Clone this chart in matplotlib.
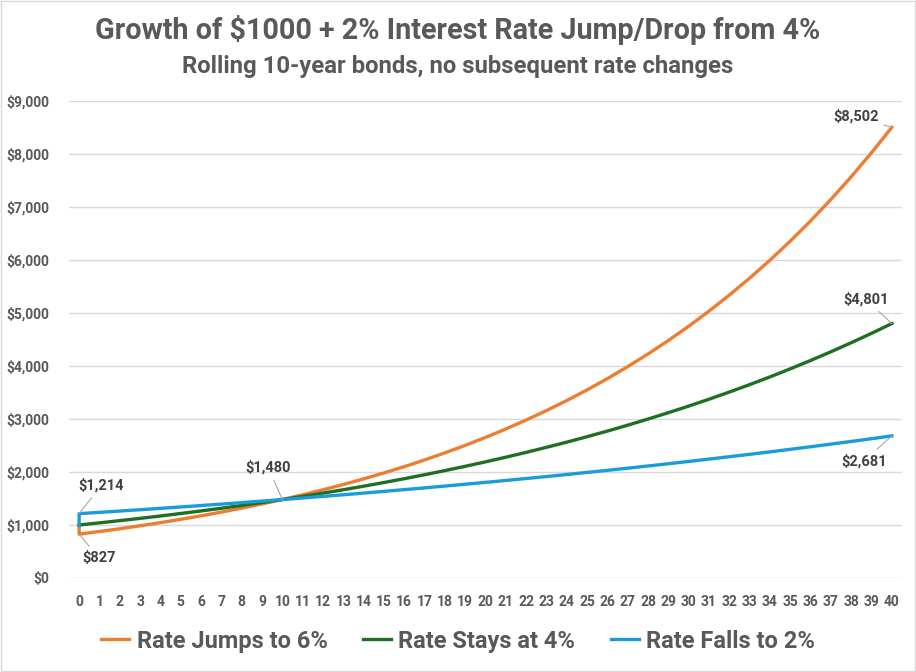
import matplotlib.pyplot as plt

# years 0..40, value of $1000 after the rate move at year 0
years = list(range(41))
jump_6 = [827, 877, 929, 985, 1044, 1107, 1173, 1243, 1318, 1397,
          1480, 1570, 1664, 1764, 1870, 1982, 2101, 2227, 2360, 2502,
          2652, 2811, 2980, 3159, 3348, 3549, 3762, 3988, 4227, 4481,
          4750, 5035, 5337, 5657, 5996, 6356, 6737, 7142, 7570, 8024,
          8502]
stay_4 = [1000, 1040, 1082, 1125, 1170, 1217, 1265, 1316, 1369, 1423,
          1480, 1539, 1601, 1665, 1732, 1801, 1873, 1948, 2026, 2107,
          2191, 2279, 2370, 2465, 2563, 2666, 2772, 2883, 2999, 3119,
          3243, 3373, 3508, 3648, 3794, 3946, 4104, 4268, 4439, 4616,
          4801]
fall_2 = [1214, 1238, 1263, 1288, 1314, 1340, 1367, 1394, 1422, 1451,
          1480, 1509, 1540, 1570, 1602, 1634, 1667, 1700, 1734, 1769,
          1804, 1840, 1877, 1914, 1952, 1992, 2031, 2072, 2113, 2156,
          2199, 2243, 2288, 2333, 2380, 2428, 2476, 2526, 2576, 2628,
          2681]
start_value = 1000

series = [
    ("Rate Jumps to 6%", jump_6, "#ED7D31"),
    ("Rate Stays at 4%", stay_4, "#1E6F22"),
    ("Rate Falls to 2%", fall_2, "#1A9CD8"),
]

TXT = "#595959"
plt.rcParams['font.family'] = ['Roboto', 'DejaVu Sans']

fig = plt.figure(figsize=(9.16, 6.72), dpi=100)
ax = fig.add_axes([0.0753, 0.1399, 0.9094, 0.7098])

for name, vals, col in series:
    xs = [0] + years
    ys = [start_value] + vals
    ax.plot(xs, ys, color=col, lw=2.4, label=name, solid_joinstyle='round')

ax.set_xlim(-0.5, 40.5)
ax.set_ylim(0, 9000)
ax.set_yticks(range(0, 9001, 1000))
ax.set_yticklabels(["\\$" + f"{v:,}" for v in range(0, 9001, 1000)])
ax.set_xticks(years)
ax.set_xticklabels([str(y) for y in years])
ax.grid(axis='y', color='#D9D9D9', lw=1)
ax.set_axisbelow(True)
for s in ax.spines.values():
    s.set_visible(False)
ax.tick_params(length=0, labelsize=10, labelcolor=TXT, pad=14)
ax.tick_params(axis='x', pad=12)
for lab in ax.get_xticklabels() + ax.get_yticklabels():
    lab.set_fontweight('bold')

# data labels
labels = [
    (40, jump_6[-1], (-36, 11)),
    (40, stay_4[-1], (-26, 24)),
    (40, fall_2[-1], (-28, -25)),
    (0, fall_2[0], (22, 28)),
    (0, jump_6[0], (20, -24)),
    (10, stay_4[10], (-14, 32)),
]
for x, y, off in labels:
    ax.annotate("\\$" + f"{y:,}", (x, y), xytext=off, textcoords='offset pixels',
                ha='center', va='center', fontsize=10.5, fontweight='bold',
                color='#404040',
                arrowprops=dict(arrowstyle='-', color='#A6A6A6', lw=0.8,
                                shrinkA=2, shrinkB=0))

fig.text(0.5, 0.955, "Growth of \\$1000 + 2% Interest Rate Jump/Drop from 4%",
         ha='center', va='center', fontsize=20.7, fontweight='bold', color=TXT)
fig.text(0.5, 0.901, "Rolling 10-year bonds, no subsequent rate changes",
         ha='center', va='center', fontsize=17.2, fontweight='bold', color=TXT)

leg = fig.legend(loc='center', bbox_to_anchor=(0.5, 0.046), ncol=3, frameon=False,
                 handlelength=1.2, columnspacing=1.5, handletextpad=0.3,
                 prop={'size': 17, 'weight': 'bold'})
for t in leg.get_texts():
    t.set_color(TXT)

fig.patches.append(plt.Rectangle((0.001, 0.001), 0.998, 0.998, transform=fig.transFigure,
                                 fill=False, edgecolor='#D9D9D9', lw=1))

fig.savefig("out.png", dpi=100)
